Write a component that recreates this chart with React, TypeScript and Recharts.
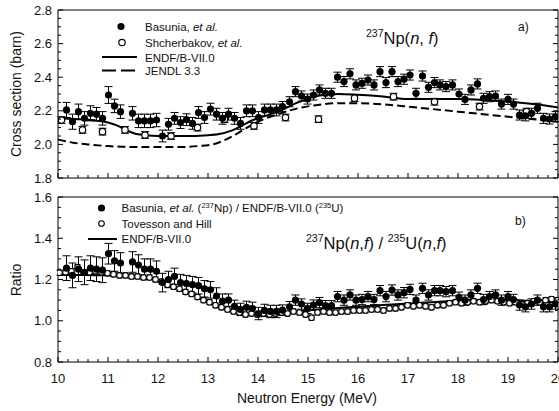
import React from 'react';
import { ComposedChart, Line, Scatter, ErrorBar, XAxis, YAxis } from 'recharts';

// Basunia et al. — same energy grid in both panels (MeV)
const basuniaE = [
  10.17, 10.29, 10.41, 10.53, 10.65, 10.77, 10.89, 11.01, 11.13, 11.25,
  11.49, 11.61, 11.73, 11.85, 11.97,
  12.09, 12.21, 12.33, 12.45, 12.57, 12.69, 12.81, 12.93, 13.05, 13.17,
  13.29, 13.41, 13.53, 13.65, 13.77, 13.89, 14.01, 14.13, 14.25, 14.37,
  14.49, 14.63, 14.75, 14.87, 14.99,
  15.11, 15.23, 15.35, 15.47, 15.59, 15.72, 15.84, 15.96,
  16.08, 16.2, 16.32, 16.44, 16.56, 16.68, 16.8, 16.92,
  17.04, 17.16, 17.29, 17.41, 17.53, 17.64, 17.76, 17.89,
  18.02, 18.14, 18.26, 18.39, 18.51, 18.63, 18.75, 18.87,
  19.0, 19.11, 19.23, 19.35, 19.47, 19.59, 19.71, 19.83, 19.95,
];
const basuniaXS = [
  2.205, 2.135, 2.195, 2.155, 2.185, 2.18, 2.155, 2.294, 2.229, 2.195,
  2.185, 2.14, 2.14, 2.14, 2.145,
  2.05, 2.12, 2.155, 2.13, 2.147, 2.125, 2.19, 2.16, 2.21, 2.18,
  2.155, 2.18, 2.155, 2.125, 2.2, 2.2, 2.16, 2.205, 2.205, 2.205,
  2.225, 2.254, 2.314, 2.288, 2.27,
  2.294, 2.324, 2.304, 2.304, 2.4, 2.374, 2.42, 2.354,
  2.364, 2.383, 2.354, 2.433, 2.368, 2.433, 2.374, 2.388,
  2.413, 2.304, 2.407, 2.34, 2.368, 2.354, 2.344, 2.354,
  2.3, 2.268, 2.324, 2.36, 2.274, 2.284, 2.288, 2.24,
  2.268, 2.24, 2.175, 2.17, 2.185, 2.215, 2.155, 2.151, 2.165,
];
const basuniaXSErr = [
  0.045, 0.045, 0.045, 0.04, 0.045, 0.04, 0.04, 0.05, 0.04, 0.04,
  0.04, 0.04, 0.04, 0.04, 0.04,
  0.035, 0.035, 0.035, 0.035, 0.035, 0.035, 0.035, 0.035, 0.035, 0.035,
  0.035, 0.035, 0.035, 0.035, 0.035, 0.035, 0.035, 0.035, 0.035, 0.035,
  0.03, 0.03, 0.03, 0.03, 0.03,
  0.03, 0.03, 0.03, 0.03, 0.03, 0.03, 0.03, 0.03,
  0.03, 0.03, 0.03, 0.03, 0.03, 0.03, 0.03, 0.03,
  0.03, 0.03, 0.03, 0.03, 0.03, 0.03, 0.03, 0.03,
  0.03, 0.03, 0.03, 0.03, 0.03, 0.03, 0.03, 0.03,
  0.03, 0.03, 0.03, 0.03, 0.03, 0.03, 0.03, 0.03, 0.03,
];
const basuniaRatio = [
  1.255, 1.22, 1.25, 1.235, 1.255, 1.25, 1.245, 1.325, 1.29, 1.28,
  1.285, 1.27, 1.25, 1.25, 1.24,
  1.185, 1.2, 1.215, 1.185, 1.18, 1.175, 1.17, 1.155, 1.15, 1.12,
  1.095, 1.1, 1.07, 1.055, 1.065, 1.06, 1.035, 1.05, 1.045, 1.045,
  1.052, 1.068, 1.1, 1.081, 1.06,
  1.076, 1.088, 1.073, 1.073, 1.117, 1.1, 1.125, 1.1,
  1.103, 1.117, 1.103, 1.146, 1.117, 1.149, 1.125, 1.136,
  1.152, 1.1, 1.157, 1.125, 1.146, 1.146, 1.141, 1.146,
  1.114, 1.1, 1.125, 1.157, 1.103, 1.117, 1.125, 1.1,
  1.117, 1.103, 1.076, 1.068, 1.081, 1.1, 1.068, 1.068, 1.081,
];
const basuniaRatioErr = [
  0.06, 0.06, 0.06, 0.06, 0.06, 0.06, 0.06, 0.05, 0.05, 0.05,
  0.05, 0.05, 0.05, 0.05, 0.05,
  0.045, 0.04, 0.04, 0.04, 0.04, 0.04, 0.04, 0.04, 0.04, 0.04,
  0.035, 0.03, 0.03, 0.03, 0.03, 0.03, 0.03, 0.03, 0.03, 0.03,
  0.025, 0.025, 0.025, 0.025, 0.025,
  0.025, 0.025, 0.025, 0.025, 0.025, 0.025, 0.025, 0.025,
  0.025, 0.025, 0.025, 0.025, 0.025, 0.025, 0.025, 0.025,
  0.025, 0.025, 0.025, 0.025, 0.025, 0.025, 0.025, 0.025,
  0.025, 0.025, 0.025, 0.025, 0.025, 0.025, 0.025, 0.025,
  0.025, 0.025, 0.025, 0.025, 0.025, 0.025, 0.025, 0.025, 0.025,
];

// Shcherbakov et al. (top panel, open circles)
const shcherbakovE = [10.07, 10.49, 10.89, 11.34, 11.74, 12.26, 12.79, 13.33, 13.92, 14.55, 15.21, 15.93, 16.71, 17.53, 18.43, 19.37];
const shcherbakovXS = [2.145, 2.086, 2.076, 2.086, 2.056, 2.05, 2.1, 2.15, 2.11, 2.16, 2.15, 2.275, 2.284, 2.254, 2.225, 2.195];
const shcherbakovErr = [0.02, 0.02, 0.02, 0.02, 0.02, 0.02, 0.02, 0.02, 0.02, 0.02, 0.02, 0.02, 0.02, 0.02, 0.02, 0.02];

// Tovesson and Hill (bottom panel, open circles)
const tovessonE = [
  10.03, 10.15, 10.27, 10.39, 10.51, 10.63, 10.75, 10.87, 10.99, 11.11,
  11.23, 11.35, 11.47, 11.59, 11.71, 11.83, 11.95, 12.07, 12.19, 12.31,
  12.43, 12.55, 12.67, 12.79, 12.91, 13.03, 13.15, 13.27, 13.39, 13.51,
  13.63, 13.75, 13.87, 13.99, 14.11, 14.23, 14.35, 14.47, 14.59, 14.71,
  14.83, 14.95, 15.07, 15.19, 15.31, 15.43, 15.55, 15.67, 15.79, 15.91,
  16.03, 16.15, 16.27, 16.39, 16.51, 16.63, 16.75, 16.87, 16.99, 17.11,
  17.23, 17.35, 17.47, 17.59, 17.71, 17.83, 17.95, 18.07, 18.19, 18.31,
  18.43, 18.55, 18.67, 18.79, 18.91, 19.03, 19.15, 19.27, 19.39, 19.51,
  19.63, 19.75, 19.87, 19.99,
];
const tovessonRatio = [
  1.233, 1.235, 1.24, 1.26, 1.235, 1.235, 1.24, 1.235, 1.23, 1.225,
  1.22, 1.22, 1.215, 1.215, 1.21, 1.21, 1.2, 1.19, 1.175, 1.165,
  1.155, 1.14, 1.13, 1.115, 1.1, 1.09, 1.075, 1.065, 1.055, 1.045,
  1.04, 1.03, 1.035, 1.03, 1.035, 1.03, 1.035, 1.04, 1.035, 1.045,
  1.04, 1.03, 1.015, 1.04, 1.045, 1.04, 1.04, 1.045, 1.045, 1.05,
  1.05, 1.05, 1.055, 1.055, 1.05, 1.06, 1.06, 1.065, 1.075, 1.07,
  1.075, 1.07, 1.065, 1.075, 1.075, 1.085, 1.09, 1.085, 1.09, 1.095,
  1.09, 1.095, 1.1, 1.095, 1.09, 1.085, 1.09, 1.08, 1.085, 1.095,
  1.09, 1.1, 1.105, 1.1,
];
const tovessonErr = 0.012;

// evaluated curves
const endfE = [10.0, 10.4, 10.8, 11.0, 11.2, 11.4, 11.6, 12.0, 12.5, 13.0, 13.2, 13.5, 13.9, 14.4, 14.8, 15.2, 15.6, 16.0, 16.5, 17.0, 17.5, 18.0, 18.5, 19.0, 19.5, 20.0];
const endfXS = [2.155, 2.15, 2.14, 2.13, 2.11, 2.08, 2.06, 2.05, 2.05, 2.055, 2.06, 2.085, 2.145, 2.195, 2.25, 2.29, 2.3, 2.295, 2.285, 2.27, 2.27, 2.27, 2.265, 2.255, 2.24, 2.22];
const jendlE = [10.0, 10.3, 10.6, 11.0, 11.5, 12.0, 12.5, 12.8, 13.1, 13.4, 13.7, 14.0, 14.4, 14.8, 15.2, 15.6, 16.0, 16.4, 17.0, 17.5, 18.0, 18.5, 19.0, 19.5, 20.0];
const jendlXS = [2.03, 2.01, 2.0, 1.99, 1.985, 1.985, 1.985, 1.99, 2.0, 2.035, 2.085, 2.135, 2.18, 2.215, 2.235, 2.245, 2.245, 2.24, 2.225, 2.21, 2.195, 2.18, 2.165, 2.15, 2.135];
const endfRatioE = [10.0, 10.5, 11.0, 11.5, 11.8, 12.0, 12.3, 12.6, 12.9, 13.1, 13.3, 13.5, 13.8, 14.0, 14.4, 14.8, 15.2, 15.8, 16.4, 17.1, 17.8, 18.4, 19.0, 19.5, 20.0];
const endfRatio = [1.222, 1.222, 1.22, 1.217, 1.21, 1.195, 1.165, 1.135, 1.105, 1.076, 1.058, 1.045, 1.033, 1.03, 1.032, 1.045, 1.055, 1.065, 1.075, 1.085, 1.095, 1.1, 1.1, 1.095, 1.088];

// tick positions
const xMajor = [10, 11, 12, 13, 14, 15, 16, 17, 18, 19, 20];
const xsMajor = [1.8, 2.0, 2.2, 2.4, 2.6, 2.8];
const ratioMajor = [0.8, 1.0, 1.2, 1.4, 1.6];

const r3 = (v: number) => Math.round(v * 1000) / 1000;
const xTicks = xMajor.flatMap((m) => (m < 20 ? [0, 0.2, 0.4, 0.6, 0.8].map((d) => r3(m + d)) : [m]));
const subdiv = (majors: number[]) =>
  majors.flatMap((m, i) => (i < majors.length - 1 ? [0, 0.05, 0.1, 0.15].map((d) => r3(m + d)) : [m]));
const xsTicks = subdiv(xsMajor);
const ratioTicks = subdiv(ratioMajor);

const zip = (e: number[], v: number[], err?: number[] | number) =>
  e.map((x, i) => ({ e: x, v: v[i], err: Array.isArray(err) ? err[i] : err }));

const basuniaTop = zip(basuniaE, basuniaXS, basuniaXSErr);
const basuniaBottom = zip(basuniaE, basuniaRatio, basuniaRatioErr);
const shcherbakov = zip(shcherbakovE, shcherbakovXS, shcherbakovErr);
const tovesson = zip(tovessonE, tovessonRatio, tovessonErr);
const endfTop = zip(endfE, endfXS);
const jendlTop = zip(jendlE, jendlXS);
const endfBottom = zip(endfRatioE, endfRatio);

const FONT = "'Liberation Sans', Arial, sans-serif";

// ticks point inward; the axis boxes are 1px so the label/line anchor sits on the frame
function makeTick(side: string, majors: number[], labels: boolean, fmt?: (v: number) => string) {
  return (p: any) => {
    const v = p.payload.value;
    const major = majors.some((m) => Math.abs(m - v) < 1e-6);
    const len = major ? 5 : 3;
    const { x, y } = p;
    let line;
    if (side === 'bottom') line = <line x1={x} y1={y} x2={x} y2={y - len} stroke="#000" />;
    else if (side === 'top') line = <line x1={x} y1={y} x2={x} y2={y + len} stroke="#000" />;
    else if (side === 'left') line = <line x1={x} y1={y} x2={x + len} y2={y} stroke="#000" />;
    else line = <line x1={x} y1={y} x2={x - len} y2={y} stroke="#000" />;
    let label = null;
    if (labels && major) {
      const txt = fmt ? fmt(v) : String(v);
      if (side === 'bottom')
        label = <text x={x} y={y + 21} textAnchor="middle" fontSize={13} fontFamily={FONT} fill="#111">{txt}</text>;
      else
        label = <text x={x - 6} y={y + 4.5} textAnchor="end" fontSize={13} fontFamily={FONT} fill="#111">{txt}</text>;
    }
    return <g>{line}{label}</g>;
  };
}

const FilledDot = (p: any) => <circle cx={p.cx} cy={p.cy} r={3.6} fill="#000" />;
const OpenDot = (p: any) => <circle cx={p.cx} cy={p.cy} r={3.2} fill="#fff" stroke="#000" strokeWidth={1.2} />;
const SmallOpenDot = (p: any) => <circle cx={p.cx} cy={p.cy} r={2.8} fill="#fff" stroke="#000" strokeWidth={1.1} />;

const frameLine = { stroke: '#000' };

export default function App() {
  return (
    <div style={{ position: 'relative', width: 559, height: 411, overflow: 'hidden', background: '#fff' }}>
      <style>{'body{margin:0;overflow:hidden;background:#fff}'}</style>

      <div style={{ position: 'absolute', left: 0, top: 0 }}>
        <ComposedChart width={620} height={190} margin={{ top: 9, right: 61, bottom: 11, left: 57 }}>
          <XAxis type="number" dataKey="e" domain={[10, 20]} allowDataOverflow ticks={xTicks} interval={0}
            height={1} tickSize={0} tickMargin={0} tickLine={false} axisLine={frameLine}
            tick={makeTick('bottom', xMajor, false)} />
          <XAxis xAxisId="top" orientation="top" type="number" domain={[10, 20]} allowDataOverflow ticks={xTicks} interval={0}
            height={1} tickSize={0} tickMargin={0} tickLine={false} axisLine={frameLine}
            tick={makeTick('top', xMajor, false)} />
          <YAxis type="number" dataKey="v" domain={[1.8, 2.8]} allowDataOverflow ticks={xsTicks} interval={0}
            width={1} tickSize={0} tickMargin={0} tickLine={false} axisLine={frameLine}
            tick={makeTick('left', xsMajor, true, (v) => v.toFixed(1))} />
          <YAxis yAxisId="right" orientation="right" type="number" domain={[1.8, 2.8]} allowDataOverflow ticks={xsTicks} interval={0}
            width={1} tickSize={0} tickMargin={0} tickLine={false} axisLine={frameLine}
            tick={makeTick('right', xsMajor, false)} />
          <Line data={jendlTop} dataKey="v" type="monotone" stroke="#000" strokeWidth={2} strokeDasharray="8 4" dot={false} isAnimationActive={false} />
          <Line data={endfTop} dataKey="v" type="monotone" stroke="#000" strokeWidth={2} dot={false} isAnimationActive={false} />
          <Scatter data={shcherbakov} dataKey="v" shape={OpenDot} isAnimationActive={false}>
            <ErrorBar dataKey="err" direction="y" width={4} stroke="#000" strokeWidth={1} />
          </Scatter>
          <Scatter data={basuniaTop} dataKey="v" shape={FilledDot} isAnimationActive={false}>
            <ErrorBar dataKey="err" direction="y" width={4} stroke="#000" strokeWidth={1} />
          </Scatter>
        </ComposedChart>
      </div>

      <div style={{ position: 'absolute', left: 0, top: 190 }}>
        <ComposedChart width={620} height={221} margin={{ top: 6, right: 61, bottom: 48, left: 57 }}>
          <XAxis type="number" dataKey="e" domain={[10, 20]} allowDataOverflow ticks={xTicks} interval={0}
            height={1} tickSize={0} tickMargin={0} tickLine={false} axisLine={frameLine}
            tick={makeTick('bottom', xMajor, true)} />
          <XAxis xAxisId="top" orientation="top" type="number" domain={[10, 20]} allowDataOverflow ticks={xTicks} interval={0}
            height={1} tickSize={0} tickMargin={0} tickLine={false} axisLine={frameLine}
            tick={makeTick('top', xMajor, false)} />
          <YAxis type="number" dataKey="v" domain={[0.8, 1.6]} allowDataOverflow ticks={ratioTicks} interval={0}
            width={1} tickSize={0} tickMargin={0} tickLine={false} axisLine={frameLine}
            tick={makeTick('left', ratioMajor, true, (v) => v.toFixed(1))} />
          <YAxis yAxisId="right" orientation="right" type="number" domain={[0.8, 1.6]} allowDataOverflow ticks={ratioTicks} interval={0}
            width={1} tickSize={0} tickMargin={0} tickLine={false} axisLine={frameLine}
            tick={makeTick('right', ratioMajor, false)} />
          <Line data={endfBottom} dataKey="v" type="monotone" stroke="#000" strokeWidth={2} dot={false} isAnimationActive={false} />
          <Scatter data={tovesson} dataKey="v" shape={SmallOpenDot} isAnimationActive={false}>
            <ErrorBar dataKey="err" direction="y" width={3} stroke="#000" strokeWidth={1} />
          </Scatter>
          <Scatter data={basuniaBottom} dataKey="v" shape={FilledDot} isAnimationActive={false}>
            <ErrorBar dataKey="err" direction="y" width={4} stroke="#000" strokeWidth={1} />
          </Scatter>
        </ComposedChart>
      </div>

      <svg width={559} height={411} style={{ position: 'absolute', left: 0, top: 0, pointerEvents: 'none' }} fontFamily={FONT} fill="#111">
        {/* axis titles */}
        <text transform="translate(21,94) rotate(-90)" textAnchor="middle" fontSize={14}>Cross section (barn)</text>
        <text transform="translate(21,280) rotate(-90)" textAnchor="middle" fontSize={14}>Ratio</text>
        <text x={307} y={403} textAnchor="middle" fontSize={14}>Neutron Energy (MeV)</text>

        {/* top legend */}
        <circle cx={121} cy={26.5} r={3.6} fill="#000" />
        <text x={145} y={30.5} fontSize={11.5}>Basunia, <tspan fontStyle="italic">et al.</tspan></text>
        <circle cx={122} cy={42.5} r={3.2} fill="#fff" stroke="#000" strokeWidth={1.2} />
        <text x={145} y={46.5} fontSize={11.5}>Shcherbakov, <tspan fontStyle="italic">et al.</tspan></text>
        <line x1={102} y1={57} x2={137} y2={57} stroke="#000" strokeWidth={2} />
        <text x={145} y={61.5} fontSize={11.5}>ENDF/B-VII.0</text>
        <line x1={102} y1={70.5} x2={137} y2={70.5} stroke="#000" strokeWidth={2} strokeDasharray="14 5" />
        <text x={145} y={75} fontSize={11.5}>JENDL 3.3</text>

        <text x={366} y={43.5} fontSize={16.5}>
          <tspan fontSize={10.5} dy={-7}>237</tspan>
          <tspan dy={7}>Np(</tspan><tspan fontStyle="italic">n</tspan><tspan>, </tspan><tspan fontStyle="italic">f</tspan><tspan>)</tspan>
        </text>
        <text x={518} y={30.5} fontSize={12}>a)</text>

        {/* bottom legend */}
        <circle cx={101.5} cy={208} r={3.6} fill="#000" />
        <text x={121.5} y={212} fontSize={11.5}>
          Basunia, <tspan fontStyle="italic">et al.</tspan> (<tspan fontSize={7.5} dy={-4}>237</tspan><tspan dy={4}>Np) / ENDF/B-VII.0 (</tspan><tspan fontSize={7.5} dy={-4}>235</tspan><tspan dy={4}>U)</tspan>
        </text>
        <circle cx={101.5} cy={223.5} r={2.8} fill="#fff" stroke="#000" strokeWidth={1.1} />
        <text x={121.5} y={227.5} fontSize={11.5}>Tovesson and Hill</text>
        <line x1={88} y1={239} x2={117} y2={239} stroke="#000" strokeWidth={2} />
        <text x={121.5} y={243} fontSize={11.5}>ENDF/B-VII.0</text>

        <text x={306} y={249} fontSize={16.5}>
          <tspan fontSize={10.5} dy={-7}>237</tspan>
          <tspan dy={7}>Np(</tspan><tspan fontStyle="italic">n</tspan><tspan>,</tspan><tspan fontStyle="italic">f</tspan><tspan>) / </tspan>
          <tspan fontSize={10.5} dy={-7}>235</tspan>
          <tspan dy={7}>U(</tspan><tspan fontStyle="italic">n</tspan><tspan>,</tspan><tspan fontStyle="italic">f</tspan><tspan>)</tspan>
        </text>
        <text x={515} y={225} fontSize={12}>b)</text>
      </svg>
    </div>
  );
}
